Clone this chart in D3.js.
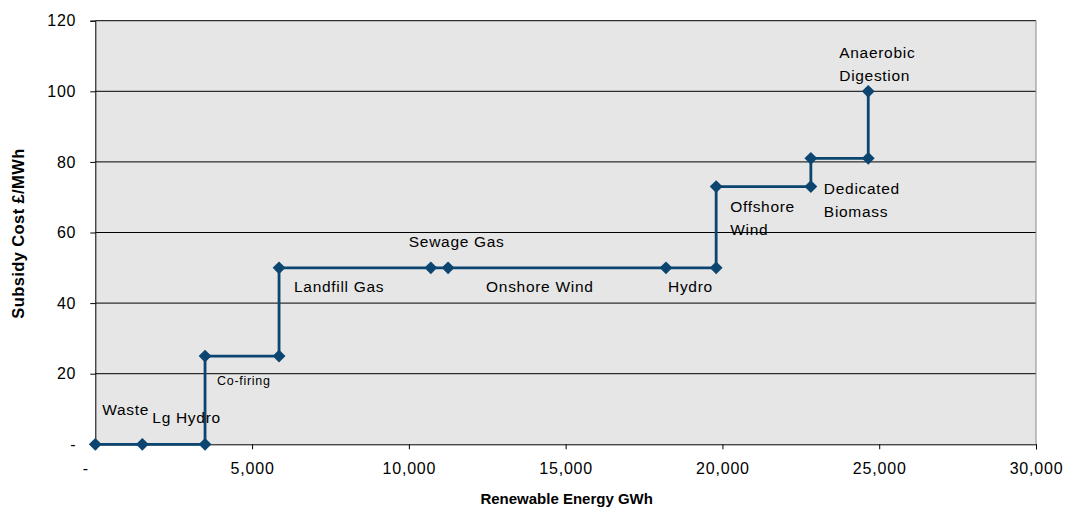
<!DOCTYPE html>
<html>
<head>
<meta charset="utf-8">
<script src="https://cdn.jsdelivr.net/npm/d3@7"></script>
<style>
  html, body { margin: 0; padding: 0; background: #ffffff; }
  svg { display: block; font-family: "Liberation Sans", Arial, sans-serif; }
</style>
</head>
<body>
<svg id="chart" width="1067" height="507"></svg>
<script>
// Cumulative renewable energy (GWh) against subsidy cost (£/MWh), drawn as a supply curve
const energyGWh = [0, 1500, 3500, 3500, 5860, 5860, 10700, 11250, 18200, 19800, 19800, 22820, 22820, 24650, 24650];
const costPerMWh = [0, 0, 0, 25, 25, 50, 50, 50, 50, 50, 73, 73, 81, 81, 100];

// Technology labels, anchored to a data point
const labelText = [
  ["Waste"], ["Lg Hydro"], ["Co-firing"], ["Landfill Gas"], ["Sewage Gas"],
  ["Onshore Wind"], ["Hydro"], ["Offshore", "Wind"], ["Dedicated", "Biomass"], ["Anaerobic", "Digestion"]
];
const labelEnergy = [0, 1500, 3500, 5860, 10700, 11250, 18200, 19800, 22820, 24650];
const labelCost   = [0, 0, 25, 50, 50, 50, 50, 73, 73, 100];

const xTicks = [0, 5000, 10000, 15000, 20000, 25000, 30000];
const yTicks = [0, 20, 40, 60, 80, 100, 120];

const svg = d3.select("#chart");
const margin = { left: 95.3, right: 1036, top: 20.7, bottom: 444.3 };

const x = d3.scaleLinear().domain([0, 30000]).range([margin.left, margin.right]);
const y = d3.scaleLinear().domain([0, 120]).range([margin.bottom, margin.top]);

const lineColor = "#0b4570";

// plot area
svg.append("rect")
  .attr("x", x(0)).attr("y", y(120))
  .attr("width", x(30000) - x(0)).attr("height", y(0) - y(120))
  .attr("fill", "#e6e6e6");

// horizontal gridlines
svg.append("g").selectAll("line")
  .data(yTicks.filter(d => d > 0))
  .join("line")
  .attr("x1", x(0)).attr("x2", x(30000))
  .attr("y1", d => y(d)).attr("y2", d => y(d))
  .attr("stroke", "#000").attr("stroke-width", 1);

// right border
svg.append("line")
  .attr("x1", x(30000)).attr("x2", x(30000))
  .attr("y1", y(120)).attr("y2", y(0))
  .attr("stroke", "#8a8a8a").attr("stroke-width", 1);

// y axis
const yAxis = d3.axisLeft(y)
  .tickValues(yTicks)
  .tickSize(5)
  .tickPadding(14)
  .tickFormat(d => d === 0 ? "-" : d3.format(",")(d));
const gy = svg.append("g").attr("transform", `translate(${x(0)},0)`).call(yAxis);
gy.select(".domain").attr("stroke", "#000");
gy.selectAll(".tick line").attr("stroke", "#000");
gy.selectAll(".tick text")
  .attr("fill", "#000")
  .style("font-size", "16px")
  .style("letter-spacing", "0.8px")
  .style("font-family", "'Liberation Sans', Arial, sans-serif");

// x axis
const xAxis = d3.axisBottom(x)
  .tickValues(xTicks)
  .tickSize(5)
  .tickPadding(13)
  .tickFormat(d => d === 0 ? "-" : d3.format(",")(d));
const gx = svg.append("g").attr("transform", `translate(0,${y(0)})`).call(xAxis);
gx.select(".domain").attr("stroke", "#000");
gx.selectAll(".tick line").attr("stroke", "#000");
gx.selectAll(".tick text")
  .attr("fill", "#000")
  .attr("dx", d => d === 0 ? -10 : 0)
  .style("font-size", "16px")
  .style("letter-spacing", "0.8px")
  .style("font-family", "'Liberation Sans', Arial, sans-serif");

// axis titles
svg.append("text")
  .attr("x", (x(0) + x(30000)) / 2 + 1).attr("y", 504)
  .attr("text-anchor", "middle")
  .style("font-size", "15px").style("font-weight", "bold")
  .text("Renewable Energy GWh");

svg.append("text")
  .attr("transform", `translate(24,${(y(0) + y(120)) / 2 + 1}) rotate(-90)`)
  .attr("text-anchor", "middle")
  .style("font-size", "16.5px").style("font-weight", "bold")
  .style("letter-spacing", "0.4px")
  .text("Subsidy Cost £/MWh");

// step line
const pts = energyGWh.map((e, i) => [e, costPerMWh[i]]);
svg.append("path")
  .datum(pts)
  .attr("fill", "none")
  .attr("stroke", lineColor)
  .attr("stroke-width", 2.8)
  .attr("d", d3.line().x(d => x(d[0])).y(d => y(d[1])));

// diamond markers
svg.append("g").selectAll("path")
  .data(pts)
  .join("path")
  .attr("transform", d => `translate(${x(d[0])},${y(d[1])})`)
  .attr("d", d3.symbol(d3.symbolDiamond2, 105)())
  .attr("fill", lineColor);

// label offsets relative to their anchor point (px)
const labelDx = [7, 10, 12, 15, -22, 38, 2, 14, 13, -29];
const labelDy = [-33, -25, 26, 20, -25, 20, 20, 21, 3, -37];
const labelSize = [15.5, 15.5, 12.5, 15.5, 15.5, 15.5, 15.5, 15.5, 15.5, 15.5];

const lg = svg.append("g");
labelText.forEach((lines, i) => {
  const t = lg.append("text")
    .attr("x", x(labelEnergy[i]) + labelDx[i])
    .attr("y", y(labelCost[i]) + labelDy[i])
    .attr("dominant-baseline", "middle")
    .style("font-size", labelSize[i] + "px")
    .style("letter-spacing", "0.7px")
    .attr("fill", "#000");
  lines.forEach((ln, j) => {
    t.append("tspan")
      .attr("x", x(labelEnergy[i]) + labelDx[i])
      .attr("dy", j === 0 ? 0 : 23)
      .text(ln);
  });
});
</script>
</body>
</html>
